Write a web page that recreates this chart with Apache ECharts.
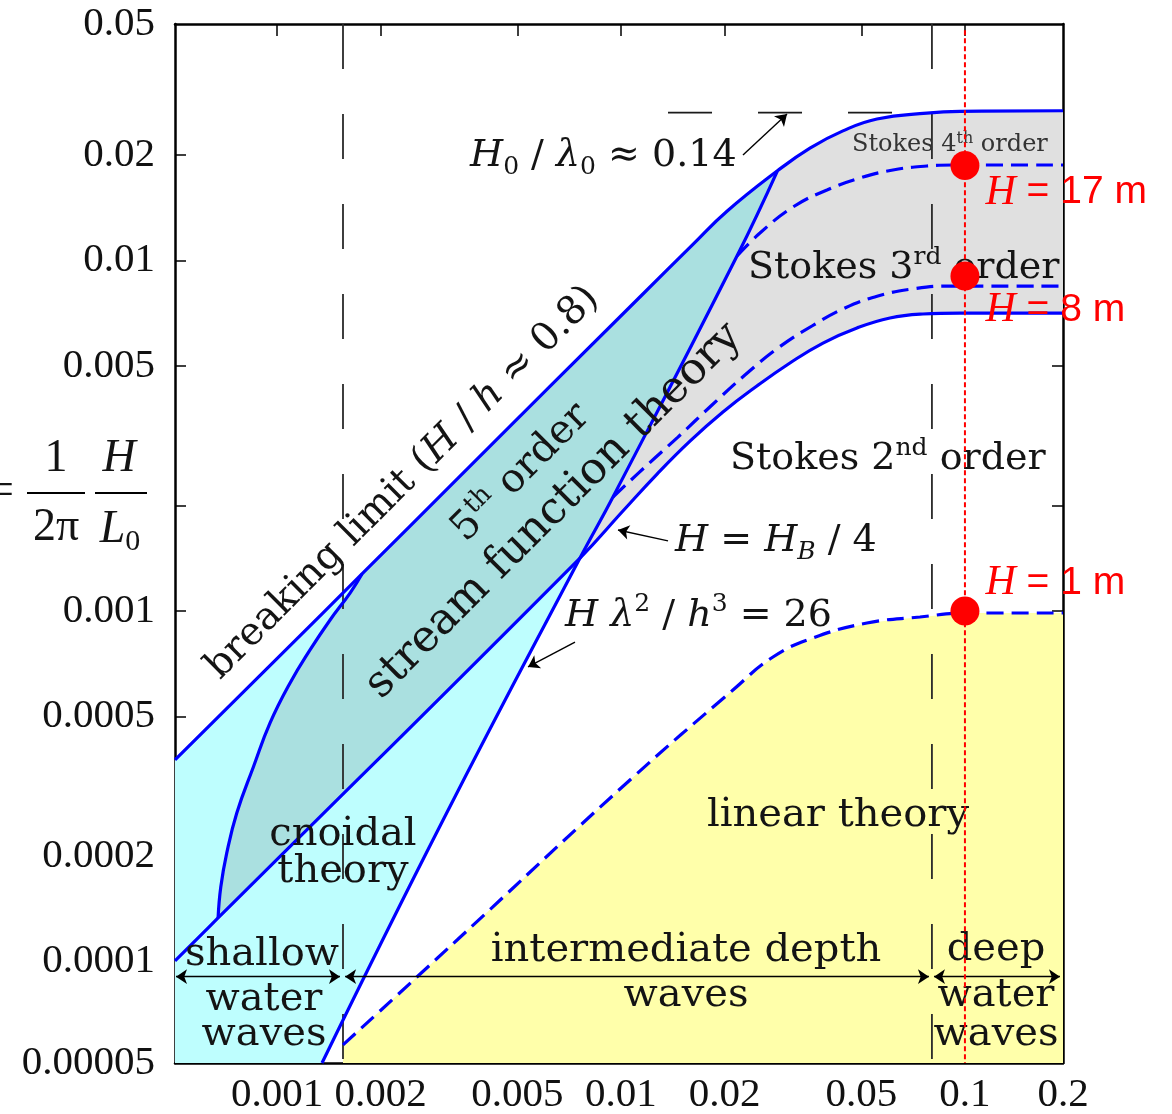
<!DOCTYPE html>
<html>
<head>
<meta charset="utf-8">
<script src="https://cdn.jsdelivr.net/npm/echarts@6/dist/echarts.min.js"></script>
<style>
  html, body { margin: 0; padding: 0; background: #fff; }
  #chart { width: 1172px; height: 1114px; }
</style>
</head>
<body>
<div id="chart"></div>
<script>
// Axis extents: h/(gT^2) horizontally, H/(gT^2) vertically
const X_MIN = 0.000505, X_MAX = 0.1928;
const Y_MIN = 0.0000514, Y_MAX = 0.0472;

const xTickValues = [0.001, 0.002, 0.005, 0.01, 0.02, 0.05, 0.1];
const xLabelValues = [0.001, 0.002, 0.005, 0.01, 0.02, 0.05, 0.1, X_MAX];
const xLabelText = ['0.001', '0.002', '0.005', '0.01', '0.02', '0.05', '0.1', '0.2'];
const yTickValues = [0.0001, 0.0002, 0.0005, 0.001, 0.002, 0.005, 0.01, 0.02];
const yLabelValues = [Y_MIN, 0.0001, 0.0002, 0.0005, 0.001, 0.005, 0.01, 0.02, Y_MAX];
const yLabelText = ['0.00005', '0.0001', '0.0002', '0.0005', '0.001', '0.005', '0.01', '0.02', '0.05'];

// Breaking limit (H/h ~ 0.8 in shallow water, H0/L0 ~ 0.14 in deep water)
const breakingLimit = [
  [0.000505, 0.000376], [0.001766, 0.001275], [0.003404, 0.002426], [0.01135, 0.00786],
  [0.01619, 0.0111], [0.02033, 0.0138], [0.0285, 0.0180], [0.03543, 0.0209],
  [0.04418, 0.0234], [0.05548, 0.0253], [0.07752, 0.0263], [0.09672, 0.0266], [X_MAX, 0.0267]
];
// Ursell limit H lambda^2 / h^3 = 26
const ursellLimit = [
  [0.001351, Y_MIN], [0.003039, 0.0002535], [0.007599, 0.001416],
  [0.009477, 0.002114], [0.02174, 0.01029], [0.0285, 0.0180]
];
// H = H_B / 4
const quarterBreaking = [
  [0.000505, 0.0001005], [0.0006738, 0.0001332], [0.007599, 0.001416], [0.01013, 0.001928],
  [0.01273, 0.002458], [0.01587, 0.003051], [0.01979, 0.003694], [0.02484, 0.004381],
  [0.03099, 0.005096], [0.03866, 0.005809], [0.04853, 0.006412], [0.06053, 0.006847],
  [0.07548, 0.007029], [0.09672, 0.007074], [X_MAX, 0.007074]
];
// left edge of the 5th order stream function region
const streamFunctionEdge = [
  [0.001766, 0.001275], [0.00163, 0.001125], [0.001426, 0.0009426], [0.001247, 0.0007743],
  [0.001091, 0.0006232], [0.0009543, 0.0004794], [0.0008534, 0.0003591],
  [0.0007637, 0.0002655], [0.0007142, 0.0002042], [0.0006861, 0.0001633], [0.0006738, 0.0001332]
];
// Stokes 3rd / 2nd order boundary
const stokes3Limit = [
  [0.009477, 0.002114], [0.01174, 0.002573], [0.01464, 0.003133], [0.01839, 0.003868],
  [0.02293, 0.004709], [0.0286, 0.005622], [0.03591, 0.006497], [0.04479, 0.007311],
  [0.05585, 0.00791], [0.07013, 0.008283], [0.09046, 0.008447], [X_MAX, 0.008447]
];
// Stokes 4th / 3rd order boundary
const stokes4Limit = [
  [0.02174, 0.01029], [0.02535, 0.01196], [0.03162, 0.01419], [0.03971, 0.01587],
  [0.04952, 0.01717], [0.06175, 0.0181], [0.07752, 0.01858], [0.09228, 0.0187], [X_MAX, 0.0187]
];
// upper limit of linear theory
const linearLimit = [
  [0.001555, 0.00005787], [0.003338, 0.0001153], [0.01062, 0.0003297], [0.02116, 0.0005952],
  [0.02766, 0.0007393], [0.03614, 0.0008375], [0.05189, 0.0009242], [0.07398, 0.0009614],
  [0.1013, 0.000987], [X_MAX, 0.000987]
];
// shallow / intermediate / deep water boundaries and the H0/L0 = 0.14 level
const shallowLimit = 0.001555;
const deepLimit = 0.08017;
const steepnessLevel = 0.02636;
const steepnessSpan = [0.0137, 0.07];
const depthArrowLevel = 0.00009062;
const depthArrowSpans = [[0.0005084, 0.001524], [0.001577, 0.07859], [0.08128, 0.1889]];

// sea state at h/(gT^2) = 0.1
const seaStateX = 0.1;
const seaStateY = [0.01864, 0.00902, 0.001];
const seaStateNames = ['17 m', '8 m', '1 m'];
const seaStateLabelShift = [27, 34, -28];

// pointer arrows [from, to]
const pointerArrows = [
  [[0.02263, 0.01996], [0.03039, 0.02613]],
  [[0.0137, 0.001584], [0.009802, 0.001702]],
  [[0.00735, 0.0008157], [0.005366, 0.0006924]]
];

// filled regions
const cyanRegion = [...breakingLimit.slice(0, 7), ...ursellLimit.slice().reverse(), [X_MIN, Y_MIN]];
const tealRegion = [
  ...streamFunctionEdge, quarterBreaking[2], ...ursellLimit.slice(3),
  ...breakingLimit.slice(1, 6).reverse()
];
const greyRegion = [
  ...ursellLimit.slice(2), ...breakingLimit.slice(7), [X_MAX, 0.007074],
  ...quarterBreaking.slice(2).reverse()
];
const yellowRegion = [[shallowLimit, Y_MIN], ...linearLimit, [X_MAX, Y_MIN]];

const BLUE = '#0000ff';
const SERIF = 'DejaVu Serif';
const TIMES = 'Liberation Serif';

function nearestLabel(values, texts) {
  return function (v) {
    let best = 0, bd = Infinity;
    values.forEach(function (t, i) {
      const d = Math.abs(Math.log(v / t));
      if (d < bd) { bd = d; best = i; }
    });
    return texts[best];
  };
}

function region(points, color) {
  return {
    type: 'custom', coordinateSystem: 'cartesian2d', silent: true, z: 1,
    data: [[0.01, 0.001]],
    renderItem: function (params, api) {
      return {
        type: 'polygon',
        shape: { points: points.map(function (p) { return api.coord(p); }) },
        style: { fill: color, stroke: null }
      };
    }
  };
}

function curve(points, dashed) {
  return {
    type: 'line', data: points, showSymbol: false, symbol: 'none', smooth: 0.45,
    silent: true, z: 3,
    lineStyle: { color: BLUE, width: 3.2, type: dashed ? [17, 8] : 'solid' }
  };
}

function guide(points, dash, color, width, z) {
  return {
    type: 'line', data: points, showSymbol: false, symbol: 'none', silent: true, z: z,
    lineStyle: { color: color, width: width, type: dash }
  };
}

const richMath = {
  i: { fontFamily: SERIF, fontStyle: 'italic', fontSize: 38, lineHeight: 48 },
  sub: { fontFamily: SERIF, fontSize: 25, verticalAlign: 'bottom', lineHeight: 22 },
  isub: { fontFamily: SERIF, fontStyle: 'italic', fontSize: 25, verticalAlign: 'bottom', lineHeight: 22 },
  sup: { fontFamily: SERIF, fontSize: 25, verticalAlign: 'top', lineHeight: 24 }
};

function label(x, y, text, opt) {
  opt = opt || {};
  const size = opt.size || 40;
  return {
    type: 'text', x: x, y: y, z: 5, rotation: opt.rotation || 0, silent: true,
    style: {
      text: text,
      fontFamily: opt.family || SERIF,
      fontStyle: opt.italic ? 'italic' : 'normal',
      fontSize: size,
      lineHeight: opt.lineHeight || Math.round(size * 1.2),
      fill: opt.color || '#141414',
      align: opt.align || 'center',
      verticalAlign: 'middle',
      rich: opt.rich || richMath
    }
  };
}

function supRich(size, supSize) {
  return {
    sup: { fontFamily: SERIF, fontSize: supSize, verticalAlign: 'top', lineHeight: Math.round(supSize * 0.95) },
    i: { fontFamily: SERIF, fontStyle: 'italic', fontSize: size, lineHeight: Math.round(size * 1.2) }
  };
}

const axisCommon = {
  type: 'log', logBase: 10,
  axisLine: { show: true, onZero: false, lineStyle: { color: '#000', width: 2.5 } },
  splitLine: { show: false },
  minorTick: { show: false },
  minorSplitLine: { show: false }
};

const option = {
  animation: false,
  backgroundColor: '#fff',
  grid: { left: 175, top: 24, width: 888, height: 1039, outerBoundsMode: 'none' },
  xAxis: [
    Object.assign({}, axisCommon, {
      min: X_MIN, max: X_MAX, position: 'bottom',
      axisTick: { show: true, inside: true, length: 12, lineStyle: { color: '#000', width: 1.5 }, customValues: xTickValues },
      axisLabel: {
        show: true, customValues: xLabelValues, formatter: nearestLabel(xLabelValues, xLabelText),
        fontFamily: TIMES, fontSize: 41, color: '#111', margin: 12
      }
    }),
    Object.assign({}, axisCommon, {
      min: X_MIN, max: X_MAX, position: 'top',
      axisTick: { show: true, inside: true, length: 12, lineStyle: { color: '#000', width: 1.5 }, customValues: xTickValues },
      axisLabel: { show: false }
    })
  ],
  yAxis: [
    Object.assign({}, axisCommon, {
      min: Y_MIN, max: Y_MAX, position: 'left',
      axisTick: { show: true, inside: true, length: 11, lineStyle: { color: '#000', width: 1.5 }, customValues: yTickValues },
      axisLabel: {
        show: true, customValues: yLabelValues, formatter: nearestLabel(yLabelValues, yLabelText),
        fontFamily: TIMES, fontSize: 41, color: '#111', margin: 20
      }
    }),
    Object.assign({}, axisCommon, {
      min: Y_MIN, max: Y_MAX, position: 'right',
      axisTick: { show: true, inside: true, length: 11, lineStyle: { color: '#000', width: 1.5 }, customValues: yTickValues },
      axisLabel: { show: false }
    })
  ],
  series: [
    region(cyanRegion, '#befefe'),
    region(yellowRegion, '#ffffaa'),
    region(tealRegion, '#aae0e0'),
    region(greyRegion, '#e0e0e0'),
    guide([[shallowLimit, Y_MAX], [shallowLimit, Y_MIN]], [45, 45], '#2a2a2a', 1.8, 2),
    guide([[deepLimit, Y_MAX], [deepLimit, Y_MIN]], [45, 45], '#2a2a2a', 1.8, 2),
    guide([[steepnessSpan[0], steepnessLevel], [steepnessSpan[1], steepnessLevel]], [44, 46], '#1a1a1a', 1.8, 2),
    curve(linearLimit, true),
    curve(stokes3Limit, true),
    curve(stokes4Limit, true),
    curve(streamFunctionEdge, false),
    curve(quarterBreaking, false),
    curve(ursellLimit, false),
    curve(breakingLimit, false),
    {
      type: 'line', data: [], silent: true, z: 4,
      markLine: {
        silent: true, animation: false, symbol: ['none', 'arrow'], symbolSize: 11,
        label: { show: false },
        lineStyle: { color: '#000', width: 1.4, type: 'solid' },
        emphasis: { disabled: true },
        data: pointerArrows.map(function (a) { return [{ coord: a[0] }, { coord: a[1] }]; })
      }
    },
    {
      type: 'line', data: [], silent: true, z: 4,
      markLine: {
        silent: true, animation: false, symbol: ['arrow', 'arrow'], symbolSize: 11,
        label: { show: false },
        lineStyle: { color: '#000', width: 1.4, type: 'solid' },
        emphasis: { disabled: true },
        data: depthArrowSpans.map(function (s) {
          return [{ coord: [s[0], depthArrowLevel] }, { coord: [s[1], depthArrowLevel] }];
        })
      }
    },
    guide([[seaStateX, 0.0453], [seaStateX, Y_MIN]], [5, 3], '#ff0000', 2, 6),
    {
      type: 'scatter', z: 7, silent: true,
      symbol: 'circle', symbolSize: 29,
      itemStyle: { color: '#ff0000', opacity: 1 },
      data: seaStateY.map(function (y, i) {
        return {
          value: [seaStateX, y],
          label: {
            show: true, position: 'right', distance: 6,
            offset: [0, seaStateLabelShift[i]],
            formatter: '{i|H} = ' + seaStateNames[i],
            fontFamily: 'Liberation Sans', fontSize: 39, color: '#ff0000', opacity: 1,
            rich: { i: { fontFamily: TIMES, fontStyle: 'italic', fontSize: 42, color: '#ff0000' } }
          }
        };
      })
    }
  ],
  graphic: [
    // vertical axis quantity
    label(14, 492, '=', { family: TIMES, size: 46, align: 'right' }),
    label(56, 459, '1', { family: TIMES, size: 46 }),
    { type: 'rect', z: 5, shape: { x: 27, y: 492, width: 58, height: 2 }, style: { fill: '#000' } },
    label(56, 528, '2π', { family: TIMES, size: 46 }),
    label(119, 459, 'H', { family: TIMES, size: 46, italic: true }),
    { type: 'rect', z: 5, shape: { x: 95, y: 492, width: 52, height: 2 }, style: { fill: '#000' } },
    label(120, 530, '{l|L}{s|0}', {
      family: TIMES, size: 46,
      rich: {
        l: { fontFamily: TIMES, fontStyle: 'italic', fontSize: 46, lineHeight: 54 },
        s: { fontFamily: TIMES, fontSize: 30, verticalAlign: 'bottom', lineHeight: 30 }
      }
    }),

    // regime names
    label(852, 145, 'Stokes 4{sup|th} order', { size: 24, align: 'left', color: '#333', rich: supRich(24, 16) }),
    label(748, 268, 'Stokes 3{sup|rd} order', { size: 38, align: 'left', rich: supRich(38, 25) }),
    label(730, 459, 'Stokes 2{sup|nd} order', { size: 38, align: 'left', rich: supRich(38, 25) }),
    label(838, 816, 'linear theory'),
    label(343, 835, 'cnoidal'),
    label(343, 872, 'theory'),
    label(262, 955, 'shallow'),
    label(264, 1000, 'water'),
    label(264, 1035, 'waves'),
    label(686, 951, 'intermediate depth'),
    label(686, 996, 'waves'),
    label(996, 950, 'deep'),
    label(996, 996, 'water'),
    label(996, 1035, 'waves'),

    // limit annotations
    label(470, 156, '{i|H}{sub|0} / {i|λ}{sub|0} ≈ 0.14', { size: 38, align: 'left' }),
    label(675, 541, '{i|H} = {i|H}{isub|B} / 4', { size: 38, align: 'left' }),
    label(565, 616, '{i|H} {i|λ}{sup|2} / {i|h}{sup|3} = 26', { size: 38, align: 'left' }),
    label(403, 483, 'breaking limit ({i|H} / {i|h} ≈ 0.8)', {
      size: 39, rotation: Math.PI / 4,
      rich: { i: { fontFamily: SERIF, fontStyle: 'italic', fontSize: 39, lineHeight: 47 } }
    }),
    label(521, 473, '5{sup|th} order', { size: 40, rotation: Math.PI / 4, rich: supRich(40, 26) }),
    label(554, 511, 'stream function theory', { size: 44, rotation: Math.PI / 4 })
  ]
};

const chart = echarts.init(document.getElementById('chart'), null, { renderer: 'canvas' });
chart.setOption(option);
</script>
</body>
</html>
